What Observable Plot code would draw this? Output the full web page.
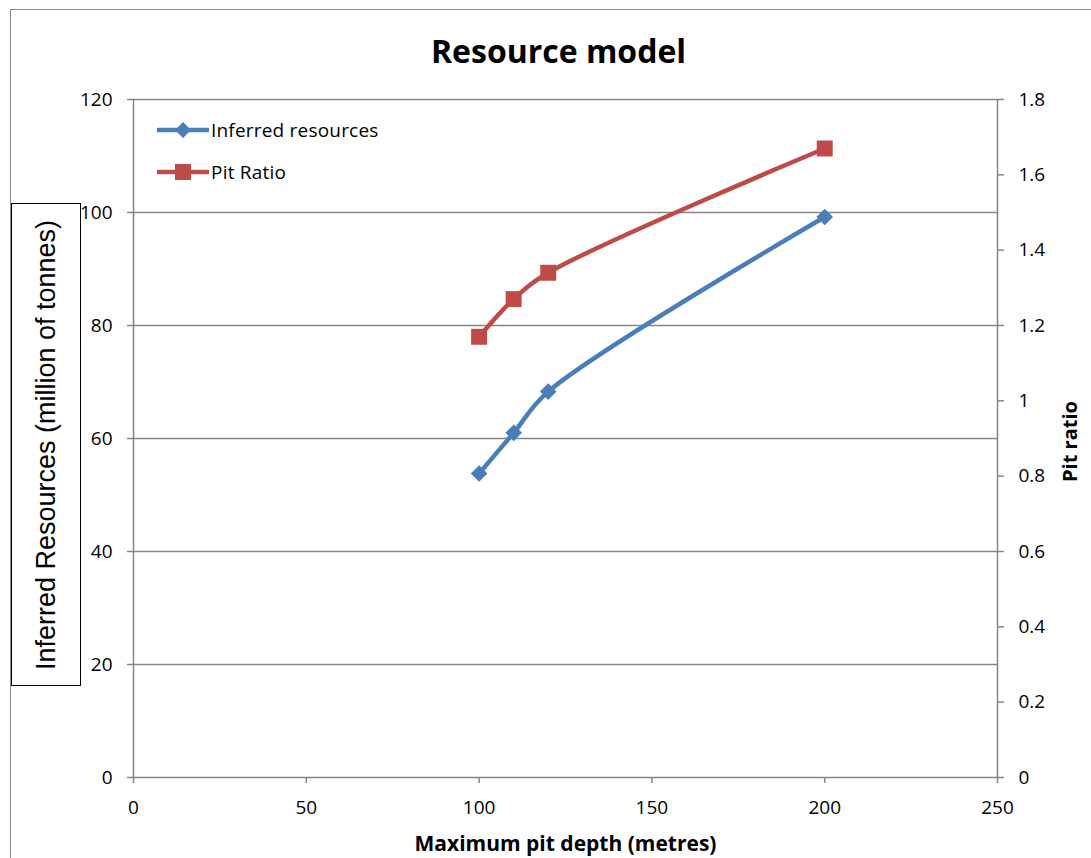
<!DOCTYPE html>
<html>
<head>
<meta charset="utf-8">
<script src="https://cdn.jsdelivr.net/npm/d3@7"></script>
<script src="https://cdn.jsdelivr.net/npm/@observablehq/plot@0.6"></script>
<style>
  html, body { margin: 0; padding: 0; background: #fff; overflow: hidden; }
  #wrap { position: relative; width: 1091px; height: 858px; overflow: hidden; font-family: "Open Sans", sans-serif; }
  #border { position: absolute; left: 10px; top: 9px; width: 2000px; height: 2000px; border: 1.5px solid #8c8c8c; }
  #chart { position: absolute; left: 0; top: 0; }
  #ytitle { position: absolute; left: 11px; top: 203px; width: 68px; height: 481px; border: 1.7px solid #000; background: #fff; }
  #ytitle span { position: absolute; left: 50%; top: 50%; transform: translate(-50%, -50%) rotate(-90deg); white-space: nowrap;
    font-family: "Liberation Sans", Arial, sans-serif; font-size: 27px; color: #000; }
  #legend { position: absolute; left: 157px; top: 109px; }
  #legend .row { display: flex; align-items: center; height: 42px; font-size: 19px; letter-spacing: 0.2px; color: #000; }
  #legend svg { margin-right: 2px; }
</style>
</head>
<body>
<div id="wrap">
  <div id="border"></div>
  <div id="chart"></div>
  <div id="ytitle"><span>Inferred Resources (million of tonnes)</span></div>
  <div id="legend"></div>
</div>
<script>
// Pit depth scenarios and the modelled outcomes
const depths = [100, 110, 120, 200];
const inferred = [53.8, 61.0, 68.3, 99.2];   // million tonnes
const pitRatio = [1.17, 1.27, 1.34, 1.67];

// Axis ticks
const depthTicks = [0, 50, 100, 150, 200, 250];
const resourceTicks = [0, 20, 40, 60, 80, 100, 120];
const ratioTicks = [0, 0.2, 0.4, 0.6, 0.8, 1, 1.2, 1.4, 1.6, 1.8];

const seriesNames = ["Inferred resources", "Pit Ratio"];
const blue = "#4a7ebb";
const red = "#be4b48";
const gridColor = "#868686";

// The pit ratio shares the plot with the left axis: 1.8 maps onto 120
const k = 120 / 1.8;

const resRows = depths.map((d, i) => ({depth: d, value: inferred[i]}));
const ratioRows = depths.map((d, i) => ({depth: d, ratio: pitRatio[i]}));

const axisStyle = {stroke: gridColor, strokeWidth: 1.5, fill: "#000", fontSize: 19, tickSize: 6, label: null};

const chart = Plot.plot({
  width: 1091,
  height: 858,
  marginLeft: 133,
  marginRight: 94,
  marginTop: 99,
  marginBottom: 81,
  style: {fontFamily: "'Open Sans', sans-serif", background: "transparent", overflow: "visible"},
  x: {domain: [0, 250]},
  y: {domain: [0, 120]},
  marks: [
    Plot.gridY(resourceTicks.slice(1), {stroke: gridColor, strokeOpacity: 1, strokeWidth: 1.5}),
    Plot.ruleY([0], {stroke: gridColor, strokeWidth: 1.5}),
    Plot.ruleX([0, 250], {stroke: gridColor, strokeWidth: 1.5}),
    Plot.axisX(depthTicks, {...axisStyle, anchor: "bottom", tickPadding: 17}),
    Plot.axisY(resourceTicks, {...axisStyle, anchor: "left", tickPadding: 15}),
    Plot.axisY(ratioTicks.map(r => r * k), {...axisStyle, anchor: "right", tickPadding: 15,
      tickFormat: d => String(+(d / k).toFixed(1))}),
    Plot.line(ratioRows, {x: "depth", y: d => d.ratio * k, stroke: red, strokeWidth: 4.5, curve: "catmull-rom"}),
    Plot.dot(ratioRows, {x: "depth", y: d => d.ratio * k, symbol: "square", r: 9, fill: red, stroke: "none"}),
    Plot.line(resRows, {x: "depth", y: "value", stroke: blue, strokeWidth: 4.5, curve: "catmull-rom"}),
    Plot.dot(resRows, {x: "depth", y: "value", symbol: "diamond2", r: 7.5, fill: blue, stroke: "none"}),
    Plot.text(["Resource model"], {frameAnchor: "top", dx: -7, dy: -47, fontSize: 32, fontWeight: "bold",
      fill: "#000", lineAnchor: "middle", style: "letter-spacing: 1.8px"}),
    Plot.text(["Maximum pit depth (metres)"], {frameAnchor: "bottom", dy: 67, fontSize: 21, fontWeight: "bold",
      fill: "#000", lineAnchor: "middle"}),
    Plot.text(["Pit ratio"], {frameAnchor: "right", dx: 73, dy: 3, rotate: -90, fontSize: 20, fontWeight: "bold",
      fill: "#000", textAnchor: "middle", lineAnchor: "middle"})
  ]
});
document.getElementById("chart").appendChild(chart);

// Legend rows with line-and-marker swatches
const legend = d3.select("#legend");
[[seriesNames[0], blue, "diamond"], [seriesNames[1], red, "square"]].forEach(([name, color, shape]) => {
  const row = legend.append("div").attr("class", "row");
  const svg = row.append("svg").attr("width", 52).attr("height", 20);
  svg.append("line").attr("x1", 1).attr("x2", 51).attr("y1", 10).attr("y2", 10)
    .attr("stroke", color).attr("stroke-width", 4.5).attr("stroke-linecap", "round");
  if (shape === "diamond") {
    svg.append("path").attr("d", "M26,2L34,10L26,18L18,10Z").attr("fill", color);
  } else {
    svg.append("rect").attr("x", 18).attr("y", 2).attr("width", 16).attr("height", 16).attr("fill", color);
  }
  row.append("span").text(name);
});
</script>
</body>
</html>
